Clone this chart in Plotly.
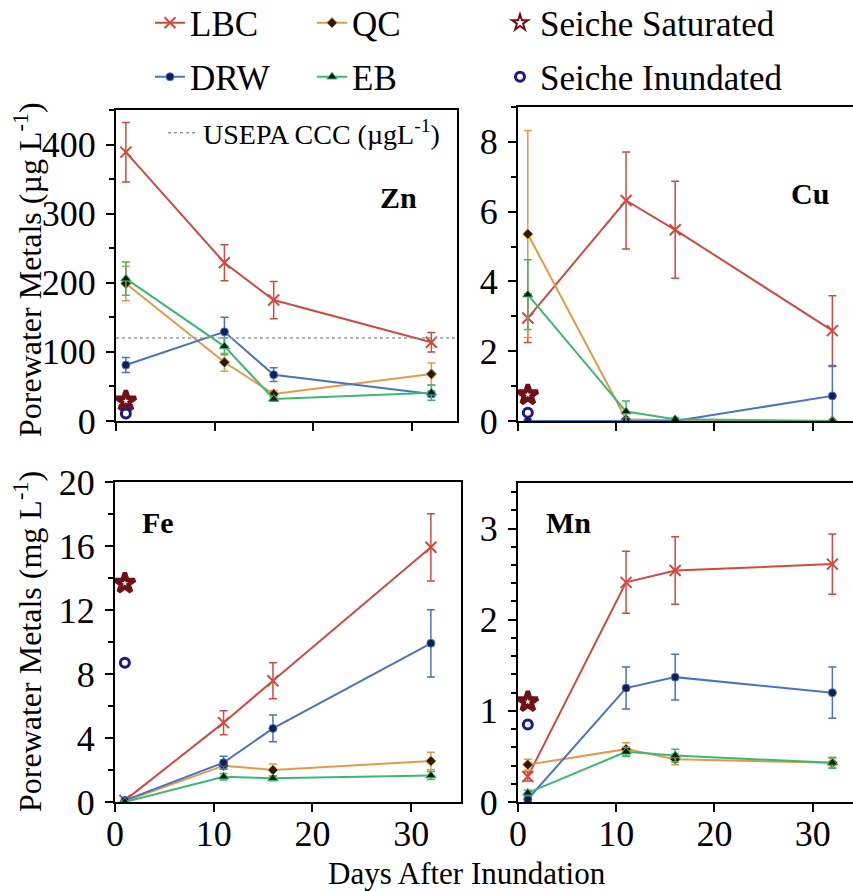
import plotly.graph_objects as go

W, H = 853, 891

days = [1, 11, 16, 32]
seiche_day = [1]

series = ["LBC", "QC", "DRW", "EB"]

zn_vals = {"LBC": [389, 229, 175, 114], "QC": [199, 85, 39, 68],
           "DRW": [81, 129, 67, 39], "EB": [206, 108, 32, 41]}
zn_err = {"LBC": [43, 26, 27, 14], "QC": [25, 13, 5, 16],
          "DRW": [11, 21, 10, 4], "EB": [24, 12, 3, 11]}
zn_seiche_sat = [29]
zn_seiche_inund = [11]
zn_ccc = 120

cu_vals = {"LBC": [2.95, 6.32, 5.48, 2.59], "QC": [5.36, 0.05, 0.02, 0.0],
           "DRW": [0.0, 0.0, 0.0, 0.72], "EB": [3.62, 0.27, 0.05, 0.0]}
cu_err = {"LBC": [0.7, 1.39, 1.39, 1.0], "QC": [2.97, 0.05, 0.02, 0.0],
          "DRW": [0.0, 0.0, 0.02, 0.84], "EB": [1.0, 0.3, 0.05, 0.0]}
cu_seiche_sat = [0.75]
cu_seiche_inund = [0.24]

fe_vals = {"LBC": [0.1, 4.96, 7.58, 15.92], "QC": [0.05, 2.27, 2.0, 2.56],
           "DRW": [0.1, 2.46, 4.6, 9.92], "EB": [0.0, 1.58, 1.48, 1.65]}
fe_err = {"LBC": [0.1, 0.75, 1.12, 2.1], "QC": [0.05, 0.2, 0.37, 0.55],
          "DRW": [0.15, 0.4, 0.84, 2.1], "EB": [0.05, 0.2, 0.15, 0.25]}
fe_seiche_sat = [13.67]
fe_seiche_inund = [8.71]

mn_vals = {"LBC": [0.28, 2.41, 2.54, 2.61], "QC": [0.41, 0.58, 0.47, 0.43],
           "DRW": [0.03, 1.25, 1.37, 1.20], "EB": [0.10, 0.55, 0.51, 0.43]}
mn_err = {"LBC": [0.05, 0.34, 0.37, 0.33], "QC": [0.06, 0.07, 0.06, 0.05],
          "DRW": [0.02, 0.23, 0.25, 0.28], "EB": [0.03, 0.05, 0.07, 0.06]}
mn_seiche_sat = [1.1]
mn_seiche_inund = [0.85]

panels = [
    ("Zn", zn_vals, zn_err, zn_seiche_sat, zn_seiche_inund, "x", "y"),
    ("Cu", cu_vals, cu_err, cu_seiche_sat, cu_seiche_inund, "x2", "y2"),
    ("Fe", fe_vals, fe_err, fe_seiche_sat, fe_seiche_inund, "x3", "y3"),
    ("Mn", mn_vals, mn_err, mn_seiche_sat, mn_seiche_inund, "x4", "y4"),
]

line_color = {"LBC": "#D04A40", "QC": "#E39A45", "DRW": "#4A72C6", "EB": "#3DB873"}
marker_style = {
    "LBC": dict(symbol="x-thin", size=11, color="#D04A40", line=dict(color="#D04A40", width=2)),
    "QC": dict(symbol="diamond", size=8, color="#2a1a0a", line=dict(color="#E39A45", width=1)),
    "DRW": dict(symbol="circle", size=8, color="#141E50", line=dict(color="#4A72C6", width=1)),
    "EB": dict(symbol="triangle-up", size=9, color="#0a1a0a", line=dict(color="#3DB873", width=1)),
}
legend_of = {"LBC": "legend", "QC": "legend2", "DRW": "legend4", "EB": "legend5"}

FONT = "Liberation Serif"
fig = go.Figure()

for pi, (name, vals, errs, sat, inund, xa, ya) in enumerate(panels):
    for s in series:
        fig.add_trace(go.Scatter(
            x=days, y=vals[s], name=s, mode="lines+markers",
            xaxis=xa, yaxis=ya,
            line=dict(color=line_color[s], width=2),
            marker=marker_style[s],
            error_y=dict(type="data", array=errs[s], color=line_color[s],
                         thickness=1.5, width=4),
            showlegend=(pi == 0), legend=legend_of[s],
        ))
    fig.add_trace(go.Scatter(
        x=seiche_day, y=sat, name="Seiche Saturated", mode="markers",
        xaxis=xa, yaxis=ya,
        marker=dict(symbol="star-open", size=15, color="#6E1015", line=dict(width=4.5, color="#6E1015")),
        showlegend=(pi == 0), legend="legend3",
    ))
    fig.add_trace(go.Scatter(
        x=seiche_day, y=inund, name="Seiche Inundated", mode="markers",
        xaxis=xa, yaxis=ya,
        marker=dict(symbol="circle-open", size=9, color="#1A1A8C", line=dict(width=3, color="#1A1A8C")),
        showlegend=(pi == 0), legend="legend6",
    ))

fig.add_shape(type="line", xref="x domain", yref="y", x0=0, x1=1, y0=zn_ccc, y1=zn_ccc,
              line=dict(color="#9a9a9a", width=1.5, dash="dot"),
              showlegend=True, legend="legend7", name="USEPA CCC (\u00b5gL<sup>-1</sup>)")

def px_x(p):
    return p / W

def px_y(p):
    return (H - p) / H

tickfont = dict(family=FONT, size=36, color="black")
common_x = dict(showline=True, linecolor="black", linewidth=2, ticks="outside", ticklen=8,
                tickwidth=2, tickcolor="black", tickvals=[0, 10, 20, 30], showgrid=False,
                zeroline=False, tickfont=tickfont, automargin=False, ticklabelstandoff=-9)
common_y = dict(showline=True, linecolor="black", linewidth=2, ticks="outside", ticklen=8,
                tickwidth=2, tickcolor="black", showgrid=False, zeroline=False, tickfont=tickfont,
                automargin=False, ticklabelstandoff=3)

fig.update_layout(
    width=W, height=H, margin=dict(l=0, r=0, t=0, b=0, autoexpand=False),
    paper_bgcolor="white", plot_bgcolor="white",
    font=dict(family=FONT, color="black"),
    xaxis=dict(common_x, domain=[px_x(116), px_x(457)], range=[0, 34.6], anchor="y",
               showticklabels=False, mirror=True),
    yaxis=dict(common_y, domain=[px_y(421), px_y(110)], range=[0, 450], anchor="x",
               tickvals=[0, 100, 200, 300, 400], mirror=True,
               minor=dict(dtick=50, ticks="outside", ticklen=5, tickwidth=1.5, tickcolor="black")),
    xaxis2=dict(common_x, domain=[px_x(518), 1.0], range=[0, 34.1], anchor="y2",
                showticklabels=False, mirror=True),
    yaxis2=dict(common_y, domain=[px_y(421), px_y(107)], range=[0, 9], anchor="x2",
                tickvals=[0, 2, 4, 6, 8],
                minor=dict(dtick=1, ticks="outside", ticklen=5, tickwidth=1.5, tickcolor="black")),
    xaxis3=dict(common_x, domain=[px_x(115), px_x(461)], range=[0, 35.05], anchor="y3",
                mirror=True),
    yaxis3=dict(common_y, domain=[px_y(802), px_y(482)], range=[0, 20], anchor="x3",
                tickvals=[0, 4, 8, 12, 16, 20], mirror=True,
                minor=dict(dtick=2, ticks="outside", ticklen=5, tickwidth=1.5, tickcolor="black")),
    xaxis4=dict(common_x, domain=[px_x(518), 1.0], range=[0, 34.1], anchor="y4",
                mirror=True),
    yaxis4=dict(common_y, domain=[px_y(802), px_y(483)], range=[0, 3.5], anchor="x4",
                tickvals=[0, 1, 2, 3],
                minor=dict(dtick=0.2, ticks="outside", ticklen=5, tickwidth=1.5, tickcolor="black")),
)

def leg(xp, yp, size=35, itemsizing="trace"):
    return dict(x=px_x(xp), y=px_y(yp), xanchor="left", yanchor="middle",
                bgcolor="rgba(0,0,0,0)", borderwidth=0, itemsizing=itemsizing,
                font=dict(family=FONT, size=size, color="black"))

fig.update_layout(
    legend=leg(150, 23),
    legend2=leg(312, 23),
    legend3=leg(500, 23, itemsizing="constant"),
    legend4=leg(150, 77),
    legend5=leg(312, 77),
    legend6=leg(500, 77),
    legend7=leg(163, 133, 28),
)

annotations = [
    dict(text="<b>Zn</b>", x=px_x(398), y=px_y(197)),
    dict(text="<b>Cu</b>", x=px_x(810), y=px_y(193)),
    dict(text="<b>Fe</b>", x=px_x(158), y=px_y(522)),
    dict(text="<b>Mn</b>", x=px_x(568), y=px_y(522)),
]
anns = []
for a in annotations:
    anns.append(dict(a, xref="paper", yref="paper", showarrow=False,
                     font=dict(family=FONT, size=30, color="black"),
                     xanchor="center", yanchor="middle"))
anns.append(dict(text="Porewater Metals (\u00b5g L<sup>-1</sup>)", x=px_x(28), y=px_y(270),
                 xref="paper", yref="paper", showarrow=False, textangle=-90,
                 font=dict(family=FONT, size=32, color="black"), xanchor="center", yanchor="middle"))
anns.append(dict(text="Porewater Metals (mg L<sup>-1</sup>)", x=px_x(28), y=px_y(642),
                 xref="paper", yref="paper", showarrow=False, textangle=-90,
                 font=dict(family=FONT, size=32, color="black"), xanchor="center", yanchor="middle"))
anns.append(dict(text="Days After Inundation", x=px_x(467), y=px_y(873),
                 xref="paper", yref="paper", showarrow=False,
                 font=dict(family=FONT, size=31, color="black"), xanchor="center", yanchor="middle"))
fig.update_layout(annotations=anns)

fig.write_html("out.html")
